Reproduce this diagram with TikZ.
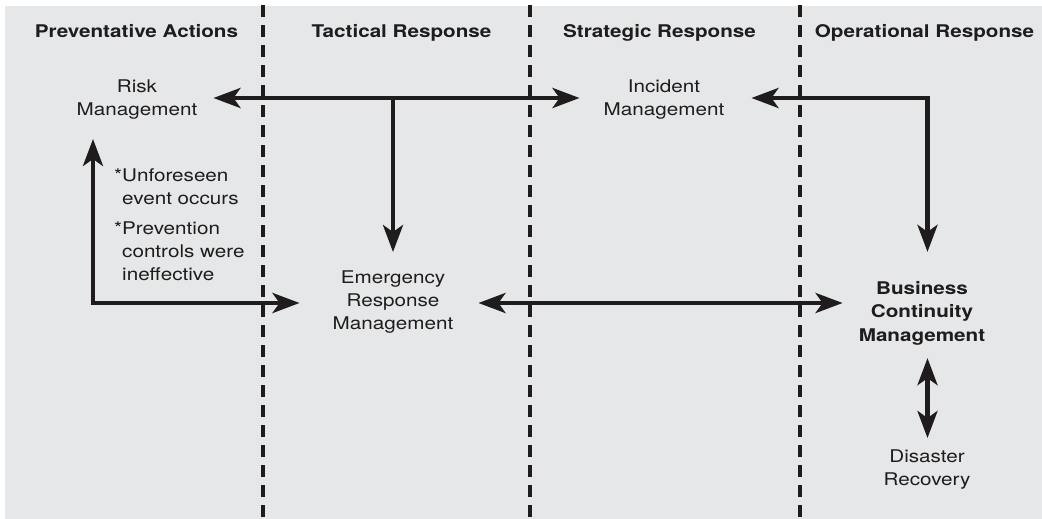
\documentclass[tikz,border=0pt]{standalone}
\usepackage{fontspec}
\setmainfont{TeX Gyre Heros}[FakeStretch=1.18]
\usetikzlibrary{arrows.meta,calc}
\definecolor{panel}{RGB}{230,231,232}
\definecolor{ink}{RGB}{30,28,29}
\tikzset{
  lbl/.style={font=\fontsize{17.5}{23}\selectfont, align=center, text=ink, inner sep=0pt},
  hdr/.style={font=\bfseries\fontsize{17.5}{21}\selectfont, text=ink, inner sep=0pt, anchor=base},
  divider/.style={line width=4.5pt, dash pattern=on 12pt off 8pt, draw=ink},
  flow/.style={line width=4.3pt, draw=ink, >={Stealth[length=27pt,width=20pt,inset=7pt]}},
}
\begin{document}
\begin{tikzpicture}[x=1pt,y=-1pt]
\useasboundingbox (0,0) rectangle (1042,519);
\fill[panel] (5,6) rectangle (1042,519);
% column dividers
\draw[divider] (263,5) -- (263,519);
\draw[divider] (530,5) -- (530,519);
\draw[divider] (800,5) -- (800,519);
% headers
\node[hdr] (h1) at (136.5,37.5) {Preventative Actions};
\node[hdr] (h2) at (401.5,37.5) {Tactical Response};
\node[hdr] (h3) at (659.5,37.5) {Strategic Response};
\node[hdr] (h4) at (924.5,37.5) {Operational Response};
% labels
\node[lbl] (risk) at (137,100) {Risk\\Management};
\node[lbl] (incident) at (664,100) {Incident\\Management};
\node[lbl] (erm) at (393,302.5) {Emergency\\Response\\Management};
\node[lbl, font=\bfseries\fontsize{17.5}{23.5}\selectfont] (bcm) at (922,313) {Business\\Continuity\\Management};
\node[lbl] (disaster) at (927,470) {Disaster\\Recovery};
\node[lbl, align=left, anchor=north west] (note) at (122,168.5)
  {\llap{*}Unforeseen\\event occurs\\[7pt]\llap{*}Prevention\\controls were\\ineffective};
% helper coordinates
\coordinate (topline) at (0,98);
\coordinate (rcorner) at (927.5,98);
\coordinate (lcorner) at (93,303);
\coordinate (midL) at ($(erm.east |- lcorner)+(25,0)$);
% connectors
\draw[flow,<->] ($(risk.east |- topline)+(16,0)$) -- ($(incident.west |- topline)+(-24,0)$);
\draw[flow,->] (erm.north |- topline) -- ($(erm.north)+(0,-19)$);
\draw[flow,<->] ($(incident.east |- topline)+(27,0)$) -- (rcorner) -- ($(rcorner |- bcm.north)+(0,-29)$);
\draw[flow,<->] (midL) -- ($(bcm.west |- midL)+(-16,0)$);
\draw[flow,<->] ($(lcorner |- risk.south)+(0,19)$) -- (lcorner) -- ($(erm.west |- lcorner)+(-33,0)$);
\draw[flow,<->] ($(rcorner |- bcm.south)+(0,13)$) -- ($(rcorner |- disaster.north)+(0,-12)$);
\end{tikzpicture}
\end{document}
